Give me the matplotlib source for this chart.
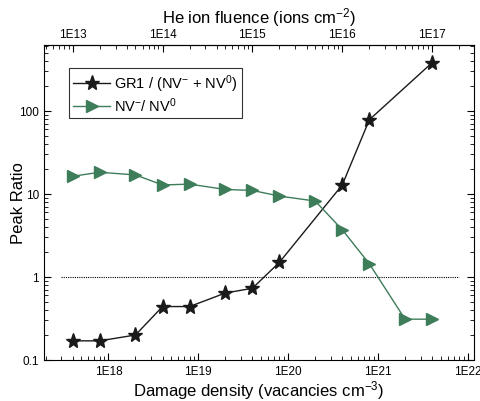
import numpy as np
import matplotlib
matplotlib.use('Agg')
from matplotlib import pyplot as plt
from matplotlib.ticker import FuncFormatter, LogLocator, NullFormatter

plt.rcParams['font.family'] = ['Liberation Sans', 'DejaVu Sans']
plt.rcParams['mathtext.fontset'] = 'custom'
plt.rcParams['mathtext.rm'] = 'Liberation Sans'
plt.rcParams['mathtext.it'] = 'Liberation Sans:italic'
plt.rcParams['mathtext.bf'] = 'Liberation Sans:bold'

# damage density (vacancies cm^-3) and peak ratios
gr1_x = [4e17, 8e17, 2e18, 4e18, 8e18, 2e19, 4e19, 8e19, 4e20, 8e20, 4e21]
gr1_y = [0.17, 0.17, 0.20, 0.44, 0.44, 0.64, 0.73, 1.5, 12.8, 78, 380]

nv_x = [4e17, 8e17, 2e18, 4e18, 8e18, 2e19, 4e19, 8e19, 2e20, 4e20, 8e20,
        2e21, 4e21]
nv_y = [16.3, 18.2, 16.9, 12.8, 13.1, 11.3, 11.0, 9.4, 8.2, 3.7, 1.44,
        0.31, 0.31]

ref_level = 1.0
ref_span = (3e17, 8e21)

# damage density per unit He fluence
damage_per_ion = 4e4
bottom_ticks = [1e18, 1e19, 1e20, 1e21, 1e22]
top_ticks = [1e13, 1e14, 1e15, 1e16, 1e17]

fig = plt.figure(figsize=(4.81, 4.02), dpi=100)
ax = fig.add_axes([0.0915, 0.102, 0.894, 0.7836])

ax.hlines(ref_level, ref_span[0], ref_span[1], colors='k',
          linestyles=(0, (1, 1)), linewidth=0.8)
ax.plot(gr1_x, gr1_y, color='#1a1a1a', marker='*', markersize=11,
        linewidth=1.0, label='GR1 / (NV$^{-}$ + NV$^{0}$)')
ax.plot(nv_x, nv_y, color='#3e7d5a', marker='>', markersize=8,
        linewidth=1.0, label='NV$^{-}$/ NV$^{0}$')

ax.set_xscale('log')
ax.set_yscale('log')
ax.set_xlim(1.92e17, 1.17e22)
ax.set_ylim(0.1, 620)
ax.set_xticks(bottom_ticks)

fmt_e = FuncFormatter(lambda v, p: '1E%d' % int(round(np.log10(v))))
ax.xaxis.set_major_formatter(fmt_e)
ax.yaxis.set_major_formatter(FuncFormatter(lambda v, p: '%g' % v))
ax.xaxis.set_minor_locator(LogLocator(base=10, subs=np.arange(2, 10)))
ax.yaxis.set_minor_locator(LogLocator(base=10, subs=np.arange(2, 10)))
ax.xaxis.set_minor_formatter(NullFormatter())
ax.yaxis.set_minor_formatter(NullFormatter())

ax.tick_params(which='both', direction='in', top=False, right=True,
               labelsize=8.5)
ax.tick_params(which='major', length=5)
ax.tick_params(which='minor', length=3)

ax.set_xlabel('Damage density (vacancies cm$^{-3}$)', fontsize=12, labelpad=1)
ax.set_ylabel('Peak Ratio', fontsize=12)
ax.yaxis.set_label_coords(-0.042, 0.5)

sec = ax.secondary_xaxis('top', functions=(lambda x: x / damage_per_ion,
                                           lambda x: x * damage_per_ion))
sec.set_xticks(top_ticks)
sec.xaxis.set_major_formatter(fmt_e)
sec.xaxis.set_minor_locator(LogLocator(base=10, subs=np.arange(2, 10)))
sec.xaxis.set_minor_formatter(NullFormatter())
sec.tick_params(which='both', direction='in', labelsize=8.5)
sec.tick_params(which='major', length=5)
sec.tick_params(which='minor', length=3)
sec.set_xlabel('He ion fluence (ions cm$^{-2}$)', fontsize=12, labelpad=4)

leg = ax.legend(loc='upper left', bbox_to_anchor=(0.058, 0.927),
                borderaxespad=0, fontsize=10.5, frameon=True, fancybox=False,
                handlelength=2.5, handletextpad=0.3, borderpad=0.3,
                labelspacing=0.1)
leg.get_frame().set_edgecolor('k')
leg.get_frame().set_linewidth(0.8)

fig.savefig('out.png', dpi=100)
